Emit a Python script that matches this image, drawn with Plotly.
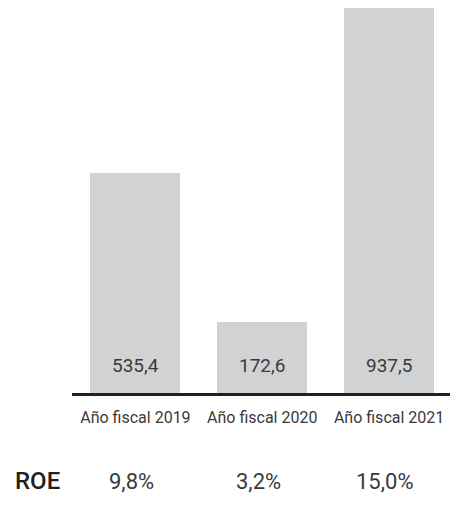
import plotly.graph_objects as go

categories = ["Año fiscal 2019", "Año fiscal 2020", "Año fiscal 2021"]
values = [535.4, 172.6, 937.5]
value_labels = ["535,4", "172,6", "937,5"]
roe_label = "ROE"
roe_values = ["9,8%", "3,2%", "15,0%"]

BAR = "#d1d2d4"
TXT = "#3a3a3a"
FONT = "Roboto"

fig = go.Figure()
fig.add_trace(go.Bar(
    x=list(range(len(categories))),
    y=values,
    marker=dict(color=BAR, line=dict(width=0)),
    width=90 / 127,
    hoverinfo="skip",
))

annotations = []
for i, lab in enumerate(value_labels):
    annotations.append(dict(x=i, y=0, xref="x", yref="y", text=lab, showarrow=False,
                            yanchor="middle", yshift=28,
                            font=dict(family=FONT, size=19, color=TXT)))
for i, lab in enumerate(roe_values):
    annotations.append(dict(x=i, y=0, xref="x", yref="paper", text=lab, showarrow=False,
                            yanchor="middle", yshift=-88, xshift=-4,
                            font=dict(family=FONT, size=22, color=TXT)))
annotations.append(dict(x=0, y=0, xref="paper", yref="paper", text=roe_label,
                        showarrow=False, xanchor="left", yanchor="middle",
                        xshift=-59, yshift=-88,
                        font=dict(family=FONT, size=24, color="#231f20", weight=500)))

fig.update_layout(
    width=450, height=500,
    margin=dict(l=63.5, r=0, t=0, b=115.3),
    paper_bgcolor="white", plot_bgcolor="white",
    showlegend=False,
    bargap=0,
    annotations=annotations,
    xaxis=dict(
        range=[-0.5, 2.5 + 5.5 / 127],
        tickmode="array", tickvals=list(range(len(categories))), ticktext=categories,
        showline=True, linecolor="#231f20", linewidth=2.6,
        showgrid=False, zeroline=False, ticks="", ticklen=0,
        tickfont=dict(family=FONT, size=16, color=TXT),
        ticklabelstandoff=8,
        fixedrange=True,
    ),
    yaxis=dict(
        range=[0, 937.5],
        visible=False, showgrid=False, zeroline=False, fixedrange=True,
    ),
)

fig.write_html("out.html", config={"displayModeBar": False})
